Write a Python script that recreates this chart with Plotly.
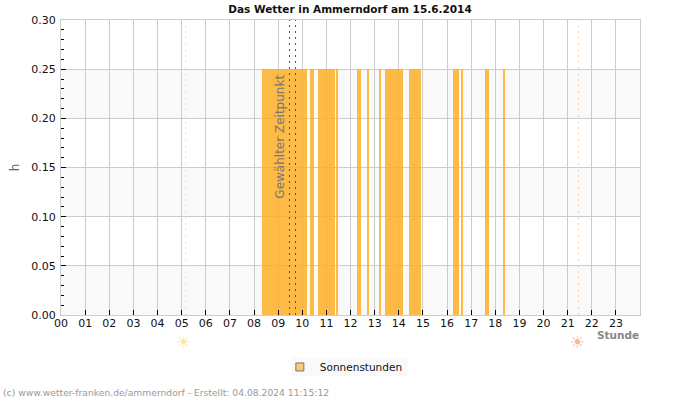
import plotly.graph_objects as go

hours = [f"{h:02d}" for h in range(24)]
tick_hours = list(range(24))
sun_start = [8.33, 10.33, 10.67, 11.40, 12.25, 12.67, 13.17, 13.42, 14.42, 16.25, 16.58, 17.58, 18.33]
sun_width = [1.85, 0.17, 0.67, 0.09, 0.17, 0.08, 0.08, 0.75, 0.50, 0.25, 0.08, 0.17, 0.09]
sun_value = [0.25] * len(sun_start)
y_ticks = [0.00, 0.05, 0.10, 0.15, 0.20, 0.25, 0.30]
shaded_bands = [(0.00, 0.05), (0.10, 0.15), (0.20, 0.25)]
selected_times = [9.47, 9.72]
sunrise = 5.17
sunset = 21.45
title = "Das Wetter in Ammerndorf am 15.6.2014"
font = "DejaVu Sans"

fig = go.Figure()
fig.add_trace(go.Bar(
    x=sun_start, y=sun_value, width=sun_width, offset=0,
    marker=dict(color="rgba(255,172,30,0.82)", line=dict(width=0)),
    showlegend=False, hoverinfo="skip",
))
fig.add_trace(go.Scatter(
    x=[None], y=[None], mode="markers", name="Sonnenstunden",
    marker=dict(symbol="square", size=8, color="#fdc878", line=dict(color="#777777", width=1)),
))

shapes = []
for lo, hi in shaded_bands:
    shapes.append(dict(type="rect", xref="paper", x0=0, x1=1, yref="y", y0=lo, y1=hi,
                       fillcolor="#f9f9f9", line=dict(width=0), layer="below"))
for t in selected_times:
    shapes.append(dict(type="line", xref="x", x0=t, x1=t, yref="paper", y0=0, y1=1,
                       line=dict(color="#555555", width=1, dash="2px,4px"), layer="above"))
shapes.append(dict(type="line", xref="x", x0=sunrise, x1=sunrise, yref="paper", y0=0, y1=1,
                   line=dict(color="#ffe960", width=1, dash="2px,4px"), layer="above"))
shapes.append(dict(type="line", xref="x", x0=sunset, x1=sunset, yref="paper", y0=0, y1=1,
                   line=dict(color="#fdc9a8", width=1, dash="2px,4px"), layer="above"))
shapes.append(dict(type="rect", xref="paper", x0=0.399, x1=0.599, yref="paper", y0=-0.2068, y1=-0.1458,
                   fillcolor="#f9f9f9", line=dict(width=0), layer="below"))

annotations = [
    dict(text="Gewählter Zeitpunkt", xref="x", yref="paper", x=9.1, y=0.603, textangle=-90,
         showarrow=False, font=dict(family=font, size=12, color="#777777")),
    dict(text="<b>Stunde</b>", xref="paper", yref="paper", x=1.0, y=-0.068, xanchor="right", yanchor="middle",
         xshift=0.5, showarrow=False, font=dict(family=font, size=10.5, color="#888888")),
    dict(text="☀", xref="x", yref="paper", x=5.08, y=-0.09, yanchor="middle", showarrow=False,
         font=dict(family=font, size=17, color="#fde79a")),
    dict(text="☀", xref="x", yref="paper", x=21.42, y=-0.09, yanchor="middle", showarrow=False,
         font=dict(family=font, size=17, color="#ffb49a")),
    dict(text="(c) www.wetter-franken.de/ammerndorf - Erstellt: 04.08.2024 11:15:12",
         xref="paper", yref="paper", x=-0.104, y=-0.264, xanchor="left", yanchor="middle",
         showarrow=False, font=dict(family=font, size=9.2, color="#999999")),
]

fig.update_layout(
    width=700, height=400,
    margin=dict(l=60.5, r=59.5, t=20, b=85),
    paper_bgcolor="white", plot_bgcolor="white",
    font=dict(family=font, size=11, color="#111111"),
    title=dict(text=f"<b>{title}</b>", x=0.5, xanchor="center", y=0.9775, yanchor="middle",
               font=dict(family=font, size=10.5, color="#111111")),
    shapes=shapes, annotations=annotations, bargap=0,
    legend=dict(x=0.378, y=-0.127, xref="paper", yref="paper", xanchor="left", yanchor="top", itemwidth=30,
                bgcolor="rgba(0,0,0,0)", font=dict(family=font, size=10.5, color="#111111"), orientation="v"),
    xaxis=dict(range=[0, 24], tickvals=tick_hours, ticktext=hours, showgrid=True, gridcolor="#cccccc",
               gridwidth=1, ticks="inside", ticklen=5, tickcolor="#000000", showline=True,
               linecolor="#cccccc", mirror=True, zeroline=False, tickfont=dict(size=11), ticklabelstandoff=-2),
    yaxis=dict(range=[0, 0.30], tickvals=y_ticks, tickformat=".2f", showgrid=True, gridcolor="#cccccc",
               gridwidth=1, ticks="inside", ticklen=5, tickcolor="#000000", showline=True,
               linecolor="#cccccc", mirror=True, zeroline=False, tickfont=dict(size=11), ticklabelstandoff=2,
               minor=dict(dtick=0.01, tick0=0, ticks="inside", ticklen=3, tickcolor="#000000", showgrid=False),
               title=dict(text="h", font=dict(size=12, color="#666666"), standoff=9)),
)
fig.write_html("out.html", config={"displayModeBar": False},
               post_script="document.body.style.margin='0';document.body.style.overflow='hidden';")
